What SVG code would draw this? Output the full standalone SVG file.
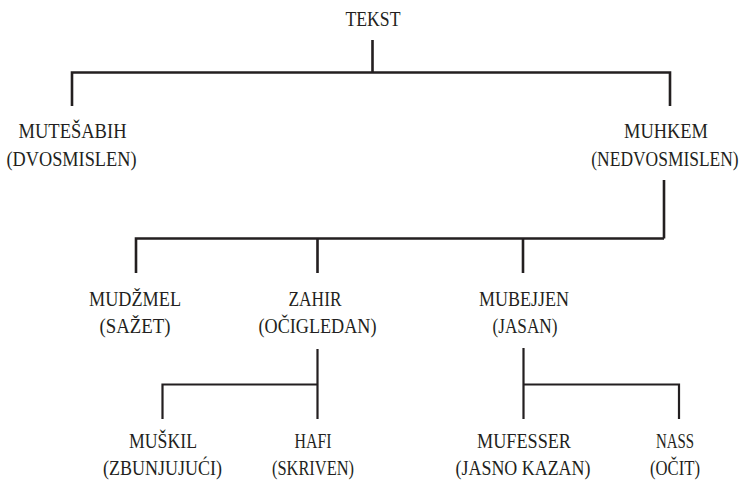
<svg xmlns="http://www.w3.org/2000/svg" width="745" height="482" viewBox="0 0 745 482">
  <style>
    .lbl { font-family: "Liberation Serif", "DejaVu Serif", serif; font-size: 20px; fill: #231f20; text-anchor: middle; }
    .wire { fill: none; stroke: #231f20; stroke-width: 2.6; stroke-linecap: butt; stroke-linejoin: miter; }
    .thin { stroke-width: 2.2; }
  </style>
  <rect width="745" height="482" fill="#ffffff"/>

  <g id="connectors">
    <path class="wire" d="M372.5 40 V72.5 M72 106 V72.5 H670 V106"/>
    <path class="wire" d="M664 180 V238.5 M136 273 V238.5 H664 M317.5 238.5 V273 M523 238.5 V273"/>
    <path class="wire thin" d="M317.5 349 V419 M162.5 419 V384.5 H317.5"/>
    <path class="wire thin" d="M523.5 348 V419 M523.5 384.5 H679 V419"/>
  </g>

  <g id="tekst"><text class="lbl" x="373" y="26" textLength="55" lengthAdjust="spacingAndGlyphs">TEKST</text></g>

  <g id="mutesabih">
    <text class="lbl" x="72.5" y="138" textLength="108" lengthAdjust="spacingAndGlyphs">MUTEŠABIH</text>
    <text class="lbl" x="71.5" y="165.5" textLength="130" lengthAdjust="spacingAndGlyphs">(DVOSMISLEN)</text>
  </g>
  <g id="muhkem">
    <text class="lbl" x="666" y="138" textLength="84" lengthAdjust="spacingAndGlyphs">MUHKEM</text>
    <!-- narrowed by a horizontal scale so the line keeps clear of the right edge -->
    <text class="lbl" transform="translate(665 165.5) scale(0.873 1)">(NEDVOSMISLEN)</text>
  </g>

  <g id="mudzmel">
    <text class="lbl" x="135" y="306" textLength="92" lengthAdjust="spacingAndGlyphs">MUDŽMEL</text>
    <text class="lbl" x="135" y="333" textLength="71" lengthAdjust="spacingAndGlyphs">(SAŽET)</text>
  </g>
  <g id="zahir">
    <text class="lbl" x="315" y="306" textLength="53" lengthAdjust="spacingAndGlyphs">ZAHIR</text>
    <text class="lbl" x="317.5" y="333" textLength="118" lengthAdjust="spacingAndGlyphs">(OČIGLEDAN)</text>
  </g>
  <g id="mubejjen">
    <text class="lbl" x="524" y="306" textLength="90" lengthAdjust="spacingAndGlyphs">MUBEJJEN</text>
    <text class="lbl" x="525" y="333" textLength="65" lengthAdjust="spacingAndGlyphs">(JASAN)</text>
  </g>

  <g id="muskil">
    <text class="lbl" x="163" y="448" textLength="68" lengthAdjust="spacingAndGlyphs">MUŠKIL</text>
    <text class="lbl" x="162.5" y="474.5" textLength="119" lengthAdjust="spacingAndGlyphs">(ZBUNJUJUĆI)</text>
  </g>
  <g id="hafi">
    <text class="lbl" x="313" y="448" textLength="37" lengthAdjust="spacingAndGlyphs">HAFI</text>
    <text class="lbl" x="313" y="474.5" textLength="82" lengthAdjust="spacingAndGlyphs">(SKRIVEN)</text>
  </g>
  <g id="mufesser">
    <text class="lbl" x="524" y="448" textLength="94" lengthAdjust="spacingAndGlyphs">MUFESSER</text>
    <text class="lbl" x="523" y="474.5" textLength="135" lengthAdjust="spacingAndGlyphs">(JASNO KAZAN)</text>
  </g>
  <g id="nass">
    <text class="lbl" x="675" y="448" textLength="38" lengthAdjust="spacingAndGlyphs">NASS</text>
    <text class="lbl" x="675" y="474.5" textLength="50" lengthAdjust="spacingAndGlyphs">(OČIT)</text>
  </g>
</svg>
